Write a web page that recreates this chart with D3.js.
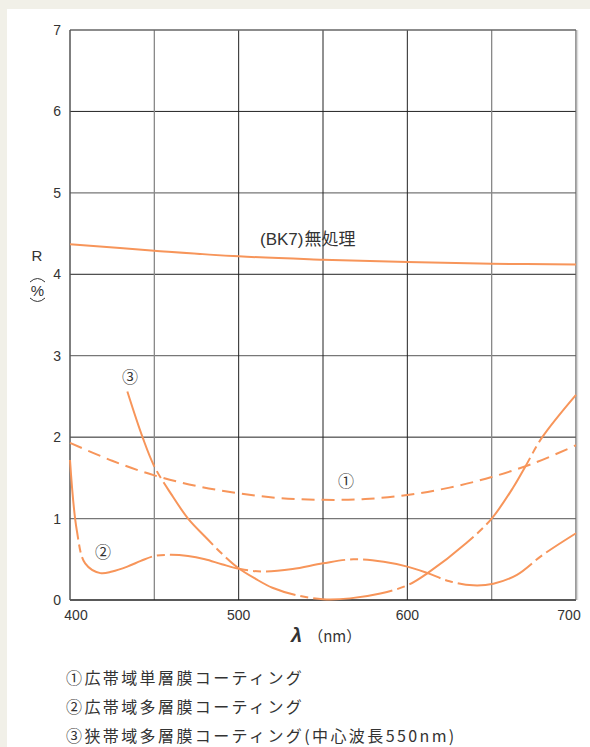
<!DOCTYPE html>
<html>
<head>
<meta charset="utf-8">
<script src="https://cdn.jsdelivr.net/npm/d3@7/dist/d3.min.js"></script>
<style>
  body { margin: 0; background: #f1f0e8; }
  svg { display: block; }
  text { fill: #333; }
</style>
</head>
<body>
<svg id="plot" width="590" height="747"></svg>
<script>
// wavelength (nm) / reflectance (%)
var bk7Wl = [400, 450, 500, 550, 600, 650, 700];
var bk7R  = [4.37, 4.29, 4.22, 4.18, 4.15, 4.13, 4.12];

var c1Wl = [400, 425, 450, 475, 500, 525, 550, 575, 600, 625, 650, 675, 700];
var c1R  = [1.93, 1.71, 1.53, 1.40, 1.31, 1.25, 1.23, 1.24, 1.29, 1.38, 1.51, 1.68, 1.90];

var c2Wl = [400, 404, 409, 418, 425, 434, 442, 450, 460, 470, 480, 490, 501, 515, 532, 550, 568, 586, 600, 612, 625, 639, 651, 665, 680, 700];
var c2R  = [1.72, 0.86, 0.45, 0.33, 0.35, 0.41, 0.48, 0.54, 0.555, 0.54, 0.50, 0.44, 0.38, 0.35, 0.38, 0.45, 0.50, 0.47, 0.41, 0.33, 0.23, 0.18, 0.20, 0.31, 0.55, 0.82];

var c3Wl = [434, 443, 450, 460, 470, 480, 490, 500, 510, 520, 534, 550, 566, 584, 600, 612, 635, 650, 663, 670, 680, 700];
var c3R  = [2.56, 2.0, 1.64, 1.30, 1.0, 0.78, 0.57, 0.39, 0.26, 0.15, 0.06, 0.01, 0.02, 0.08, 0.18, 0.33, 0.70, 1.0, 1.39, 1.64, 2.0, 2.52];

var yTicks = [0, 1, 2, 3, 4, 5, 6, 7];
var xTicks = [400, 500, 600, 700];
var xGrid = [450, 500, 550, 600, 650];

var legendLines = [
  "①広帯域単層膜コーティング",
  "②広帯域多層膜コーティング",
  "③狭帯域多層膜コーティング(中心波長550nm)"
];

var svg = d3.select("#plot");
var orange = "#f7955a";
var jp = "'Noto Sans CJK JP', sans-serif";
var num = "'Liberation Sans', Arial, sans-serif";

// white panel
svg.append("rect").attr("x", 7).attr("y", 9).attr("width", 583).attr("height", 738).attr("fill", "#fff");

var x = d3.scaleLinear().domain([400, 700]).range([70, 576]);
var y = d3.scaleLinear().domain([0, 7]).range([600, 30]);

// grid
var grid = svg.append("g");
grid.selectAll("line.h")
  .data(yTicks.filter(function (d) { return d > 0 && d < 7; }))
  .enter().append("line")
  .attr("x1", x(400)).attr("x2", x(700))
  .attr("y1", function (d) { return y(d); })
  .attr("y2", function (d) { return y(d); })
  .attr("stroke", function (d) { return d % 2 == 0 ? "#222" : "#777"; })
  .attr("stroke-width", function (d) { return d % 2 == 0 ? 1 : 1.3; });

grid.selectAll("line.v")
  .data(xGrid)
  .enter().append("line")
  .attr("y1", y(0)).attr("y2", y(7))
  .attr("x1", function (d) { return x(d); })
  .attr("x2", function (d) { return x(d); })
  .attr("stroke", function (d) { return (d == 450 || d == 650) ? "#888" : "#222"; })
  .attr("stroke-width", function (d) { return (d == 450 || d == 650) ? 1.3 : 1; });

// frame
grid.append("line").attr("x1", x(400)).attr("x2", x(700)).attr("y1", y(7)).attr("y2", y(7)).attr("stroke", "#666").attr("stroke-width", 1.5);
grid.append("line").attr("x1", x(400)).attr("x2", x(700)).attr("y1", y(0)).attr("y2", y(0)).attr("stroke", "#222").attr("stroke-width", 1.3);
grid.append("line").attr("x1", x(400)).attr("x2", x(400)).attr("y1", y(0)).attr("y2", y(7)).attr("stroke", "#555").attr("stroke-width", 1.5);
grid.append("line").attr("x1", x(700)).attr("x2", x(700)).attr("y1", y(0)).attr("y2", y(7)).attr("stroke", "#666").attr("stroke-width", 1.3);
grid.append("line").attr("x1", x(700) + 1.5).attr("x2", x(700) + 1.5).attr("y1", y(0)).attr("y2", y(7)).attr("stroke", "#ddd").attr("stroke-width", 1.5);

// tick labels
svg.append("g").selectAll("text")
  .data(yTicks)
  .enter().append("text")
  .attr("x", 61)
  .attr("y", function (d) { return y(d) + 5; })
  .attr("text-anchor", "end")
  .style("font-family", num).style("font-size", "14px")
  .text(function (d) { return d; });

svg.append("g").selectAll("text")
  .data(xTicks)
  .enter().append("text")
  .attr("x", function (d) { return x(d) + (d == 400 ? 6 : d == 700 ? -7 : 0); })
  .attr("y", 620)
  .attr("text-anchor", "middle")
  .style("font-family", num).style("font-size", "14px")
  .text(function (d) { return d; });

// axis titles
var xt = svg.append("text").attr("x", 291).attr("y", 642).style("font-family", num);
xt.append("tspan").style("font-size", "20px").style("font-style", "italic").style("font-weight", "bold").text("λ");
xt.append("tspan").attr("dx", 6).style("font-size", "15px").style("font-family", jp).text("（nm）");

svg.append("text").attr("x", 37).attr("y", 261).attr("text-anchor", "middle")
  .style("font-family", num).style("font-size", "15px").text("R");
svg.append("text").attr("x", 37.5).attr("y", 296).attr("text-anchor", "middle")
  .style("font-family", num).style("font-size", "15px").text("%");
svg.append("path").attr("d", "M30,282 Q37.5,275 45,282")
  .attr("fill", "none").attr("stroke", "#333").attr("stroke-width", 1);
svg.append("path").attr("d", "M30,298 Q37.5,305 45,298")
  .attr("fill", "none").attr("stroke", "#333").attr("stroke-width", 1);

// curves
var line = d3.line()
  .x(function (d) { return x(d[0]); })
  .y(function (d) { return y(d[1]); })
  .curve(d3.curveCatmullRom.alpha(0.5));

function pairs(wl, r) { return wl.map(function (w, i) { return [w, r[i]]; }); }

var series = [
  { pts: pairs(bk7Wl, bk7R), dash: null },
  { pts: pairs(c1Wl, c1R), dash: "13,7" },
  { pts: pairs(c2Wl, c2R), dash: "80,5,8,5" },
  { pts: pairs(c3Wl, c3R), dash: "80,5,8,5" }
];

svg.append("g").selectAll("path")
  .data(series)
  .enter().append("path")
  .attr("d", function (d) { return line(d.pts); })
  .attr("fill", "none")
  .attr("stroke", orange)
  .attr("stroke-width", 2)
  .attr("stroke-dasharray", function (d) { return d.dash; });

// curve labels
var bk = svg.append("text").attr("x", 260).attr("y", 245).style("font-size", "17px");
bk.append("tspan").style("font-family", num).text("(BK7)");
bk.append("tspan").attr("dx", 1).style("font-family", jp).text("無処理");

var marks = [["③", 130, 383], ["①", 346, 487], ["②", 103, 558]];
svg.append("g").selectAll("text")
  .data(marks)
  .enter().append("text")
  .attr("x", function (d) { return d[1]; })
  .attr("y", function (d) { return d[2]; })
  .attr("text-anchor", "middle")
  .style("font-family", jp).style("font-size", "16px")
  .text(function (d) { return d[0]; });

// legend
svg.append("g").selectAll("text")
  .data(legendLines)
  .enter().append("text")
  .attr("x", 66)
  .attr("y", function (d, i) { return 684 + i * 29; })
  .style("font-family", jp).style("font-size", "16px")
  .style("letter-spacing", "2.4px")
  .text(function (d) { return d; });
</script>
</body>
</html>
